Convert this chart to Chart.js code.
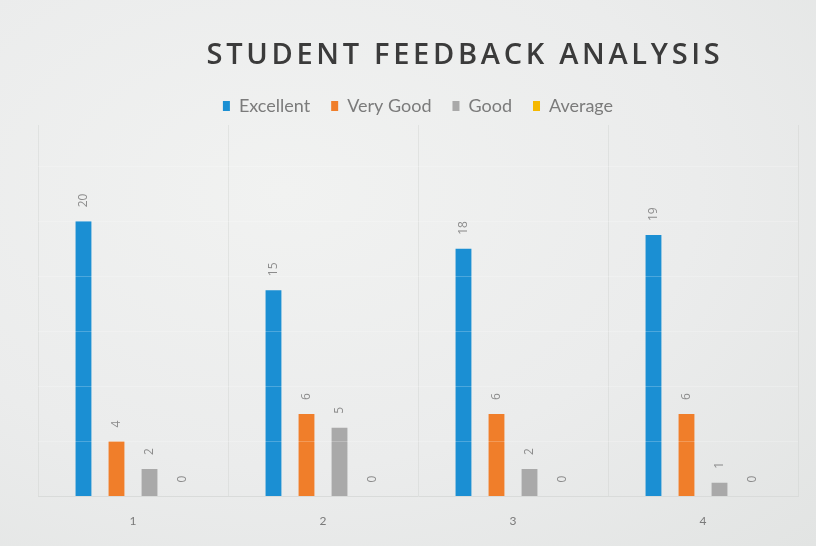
<!DOCTYPE html>
<html>
<head>
<meta charset="utf-8">
<script src="https://cdn.jsdelivr.net/npm/chart.js@4.4.1/dist/chart.umd.min.js"></script>
<style>
  html, body { margin: 0; padding: 0; }
  body {
    width: 816px; height: 546px; overflow: hidden;
    background: radial-gradient(ellipse at 35% 35%, #f1f2f1 0%, #ebecec 55%, #e2e4e3 100%);
  }
  #wrap { position: relative; width: 816px; height: 546px; }
</style>
</head>
<body>
<div id="wrap"><canvas id="feedbackChart" width="816" height="546"></canvas></div>
<script>
// categories and ratings
var categories = ["1", "2", "3", "4"];
var excellent = [20, 15, 18, 19];
var veryGood = [4, 6, 6, 6];
var good = [2, 5, 2, 1];
var average = [0, 0, 0, 0];
var seriesNames = ["Excellent", "Very Good", "Good", "Average"];
var seriesColors = ["#1b8fd3", "#f07e2a", "#a9a9a9", "#f5b800"];
var chartTitle = "STUDENT FEEDBACK ANALYSIS";

// title drawn over the legend
var titlePlugin = {
  id: "titleText",
  afterDraw: function(chart) {
    var ctx = chart.ctx;
    ctx.save();
    ctx.font = "600 29px 'Open Sans'";
    ctx.fillStyle = "#3b3b3b";
    ctx.textAlign = "center";
    ctx.textBaseline = "middle";
    if ("letterSpacing" in ctx) ctx.letterSpacing = "3.7px";
    ctx.fillText(chartTitle, 465, 56);
    ctx.restore();
  }
};

// value labels, rotated, above each bar
var valueLabels = {
  id: "valueLabels",
  afterDatasetsDraw: function(chart) {
    var ctx = chart.ctx;
    ctx.save();
    ctx.font = "12px 'Open Sans'";
    ctx.fillStyle = "#8c8c8c";
    ctx.textAlign = "left";
    ctx.textBaseline = "middle";
    chart.data.datasets.forEach(function(ds, di) {
      var meta = chart.getDatasetMeta(di);
      meta.data.forEach(function(bar, i) {
        var txt = String(ds.data[i]);
        ctx.save();
        ctx.translate(bar.x, bar.y - 14);
        ctx.rotate(-Math.PI / 2);
        ctx.fillText(txt, 0, 0);
        ctx.restore();
      });
    });
    ctx.restore();
  }
};

var seriesData = [excellent, veryGood, good, average];
var datasets = [];
for (var s = 0; s < seriesNames.length; s++) {
  datasets.push({
    label: seriesNames[s],
    data: seriesData[s],
    backgroundColor: seriesColors[s],
    borderWidth: 0,
    categoryPercentage: 0.695,
    barPercentage: 0.48
  });
}

var ctx = document.getElementById("feedbackChart").getContext("2d");
var feedbackChart = new Chart(ctx, {
  type: "bar",
  data: { labels: categories, datasets: datasets },
  options: {
    responsive: false,
    animation: false,
    layout: { padding: { top: 76, left: 38, right: 18, bottom: 1 } },
    plugins: {
      legend: {
        display: true,
        position: "top",
        labels: {
          boxWidth: 7,
          boxHeight: 10,
          padding: 21,
          color: "#7b7b7b",
          font: { family: "Lato", size: 18 }
        }
      },
      title: { display: false },
      tooltip: { enabled: false }
    },
    scales: {
      x: {
        grid: { display: true, offset: true, drawTicks: false, color: "rgba(200,202,201,0.35)" },
        border: { display: true, color: "#d9dbda" },
        ticks: { color: "#7a7a7a", font: { family: "Lato", size: 12 }, padding: 17 }
      },
      y: {
        display: true,
        min: 0,
        max: 27,
        grid: {
          z: 1,
          drawTicks: false,
          color: function(c) {
            var v = c.tick.value;
            return (v > 0 && v % 4 === 0) ? "rgba(255,255,255,0.22)" : "rgba(0,0,0,0)";
          }
        },
        border: { display: false },
        ticks: { display: false, stepSize: 4 }
      }
    }
  },
  plugins: [titlePlugin, valueLabels]
});
</script>
</body>
</html>
